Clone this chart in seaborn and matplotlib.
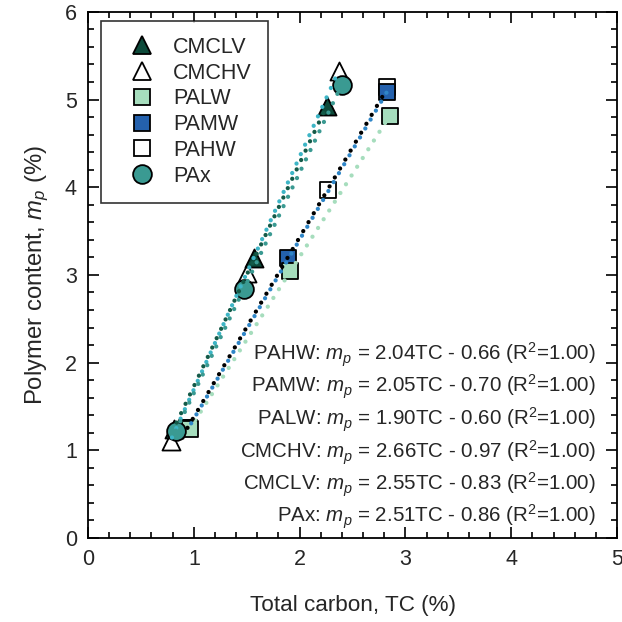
import matplotlib
matplotlib.use("Agg")
import matplotlib.pyplot as plt
import seaborn as sns
import pandas as pd
from matplotlib.ticker import MultipleLocator

# ---- data ----
series = ["CMCLV", "CMCHV", "PALW", "PAMW", "PAHW", "PAx"]
tc_cmclv = [0.81, 1.57, 2.26]
mp_cmclv = [1.24, 3.19, 4.93]
tc_cmchv = [0.78, 1.50, 2.37]
mp_cmchv = [1.11, 3.02, 5.33]
tc_palw = [0.96, 1.91, 2.85]
mp_palw = [1.24, 3.04, 4.81]
tc_pamw = [0.95, 1.89, 2.83]
mp_pamw = [1.25, 3.19, 5.09]
tc_pahw = [0.94, 2.27, 2.83]
mp_pahw = [1.26, 3.97, 5.14]
tc_pax = [0.83, 1.47, 2.40]
mp_pax = [1.22, 2.84, 5.17]

equations = [
    "PAHW: $m_p$ = 2.04TC - 0.66 (R$^2$=1.00)",
    "PAMW: $m_p$ = 2.05TC - 0.70 (R$^2$=1.00)",
    "PALW: $m_p$ = 1.90TC - 0.60 (R$^2$=1.00)",
    "CMCHV: $m_p$ = 2.66TC - 0.97 (R$^2$=1.00)",
    "CMCLV: $m_p$ = 2.55TC - 0.83 (R$^2$=1.00)",
    "PAx: $m_p$ = 2.51TC - 0.86 (R$^2$=1.00)",
]

data = {
    "CMCLV": (tc_cmclv, mp_cmclv),
    "CMCHV": (tc_cmchv, mp_cmchv),
    "PALW": (tc_palw, mp_palw),
    "PAMW": (tc_pamw, mp_pamw),
    "PAHW": (tc_pahw, mp_pahw),
    "PAx": (tc_pax, mp_pax),
}

# ---- styles ----
fill = {"CMCLV": "#0d4a3a", "CMCHV": "#ffffff", "PALW": "#a6ddbd",
        "PAMW": "#2461ad", "PAHW": "#ffffff", "PAx": "#3a9a92"}
marker = {"CMCLV": "^", "CMCHV": "^", "PALW": "s", "PAMW": "s", "PAHW": "s", "PAx": "o"}
msize = {"CMCLV": 13, "CMCHV": 13, "PALW": 12, "PAMW": 12, "PAHW": 12, "PAx": 13.5}
linecol = {"CMCLV": "#145a48", "CMCHV": "#3db5c6", "PALW": "#a6ddbd",
           "PAMW": "#2f86c8", "PAHW": "#000000", "PAx": "#3a9a92"}
dash_off = {"CMCLV": 0.8, "CMCHV": 1.6, "PALW": 0.0,
            "PAMW": 1.2, "PAHW": 0.0, "PAx": 0.0}

sns.set_theme(style="ticks")
plt.rcParams["font.family"] = ["Liberation Sans", "DejaVu Sans"]
plt.rcParams["mathtext.fontset"] = "custom"
plt.rcParams["mathtext.rm"] = "Liberation Sans"
plt.rcParams["mathtext.it"] = "Liberation Sans:italic"

fig = plt.figure(figsize=(6.22, 6.22), dpi=100)
ax = fig.add_axes([0.1415, 0.135, 0.8505, 0.846])

draw_order = ["CMCHV", "CMCLV", "PAHW", "PAMW", "PALW", "PAx"]
for i, name in enumerate(draw_order):
    x, y = data[name]
    df = pd.DataFrame({"TC": x, "mp": y})
    sns.scatterplot(data=df, x="TC", y="mp", ax=ax, marker=marker[name],
                    s=msize[name] ** 2, color=fill[name], edgecolor="black",
                    linewidth=1.3, zorder=3 + i * 0.01, legend=False)

for name in ["PALW", "PAMW", "PAHW", "CMCHV", "CMCLV", "PAx"]:
    x, y = data[name]
    df = pd.DataFrame({"TC": x, "mp": y})
    sns.regplot(data=df, x="TC", y="mp", ax=ax, scatter=False, ci=None,
                truncate=True,
                line_kws=dict(color=linecol[name], lw=3.1,
                              linestyle=(dash_off[name], (0.01, 2.4)),
                              dash_capstyle="round", zorder=5))

# legend
handles = []
for name in series:
    h, = ax.plot([], [], ls="none", marker=marker[name], ms=msize[name],
                 mfc=fill[name], mec="black", mew=1.3, label=name)
    handles.append(h)
leg = ax.legend(handles=handles, loc="upper left", bbox_to_anchor=(0.025, 0.983),
                borderaxespad=0, frameon=True, fancybox=False, edgecolor="black",
                fontsize=15.5, handletextpad=0.35, labelspacing=0.22,
                borderpad=0.75, handlelength=2.25)
leg.get_frame().set_linewidth(1.2)
leg.set_zorder(10)

# equations
ys = [0.349, 0.287, 0.225, 0.162, 0.101, 0.040]
for t, yy in zip(equations, ys):
    ax.text(0.96, yy, t, transform=ax.transAxes, ha="right", va="center",
            fontsize=14.8, zorder=6)

ax.set_xlim(0, 5)
ax.set_ylim(0, 6)
ax.xaxis.set_major_locator(MultipleLocator(1))
ax.xaxis.set_minor_locator(MultipleLocator(0.2))
ax.yaxis.set_major_locator(MultipleLocator(1))
ax.yaxis.set_minor_locator(MultipleLocator(0.2))
ax.tick_params(which="both", direction="in", top=True, right=True,
               color="black", width=1.2, labelsize=15.5, pad=8)
ax.tick_params(which="major", length=8)
ax.tick_params(which="minor", length=4.5)
for sp in ax.spines.values():
    sp.set_linewidth(1.3)
    sp.set_color("black")

ax.set_xlabel("Total carbon, TC (%)", fontsize=16.2, labelpad=18)
ax.set_ylabel("Polymer content, $m_p$ (%)", fontsize=17.2, labelpad=10)

fig.savefig("out.png", dpi=100)
